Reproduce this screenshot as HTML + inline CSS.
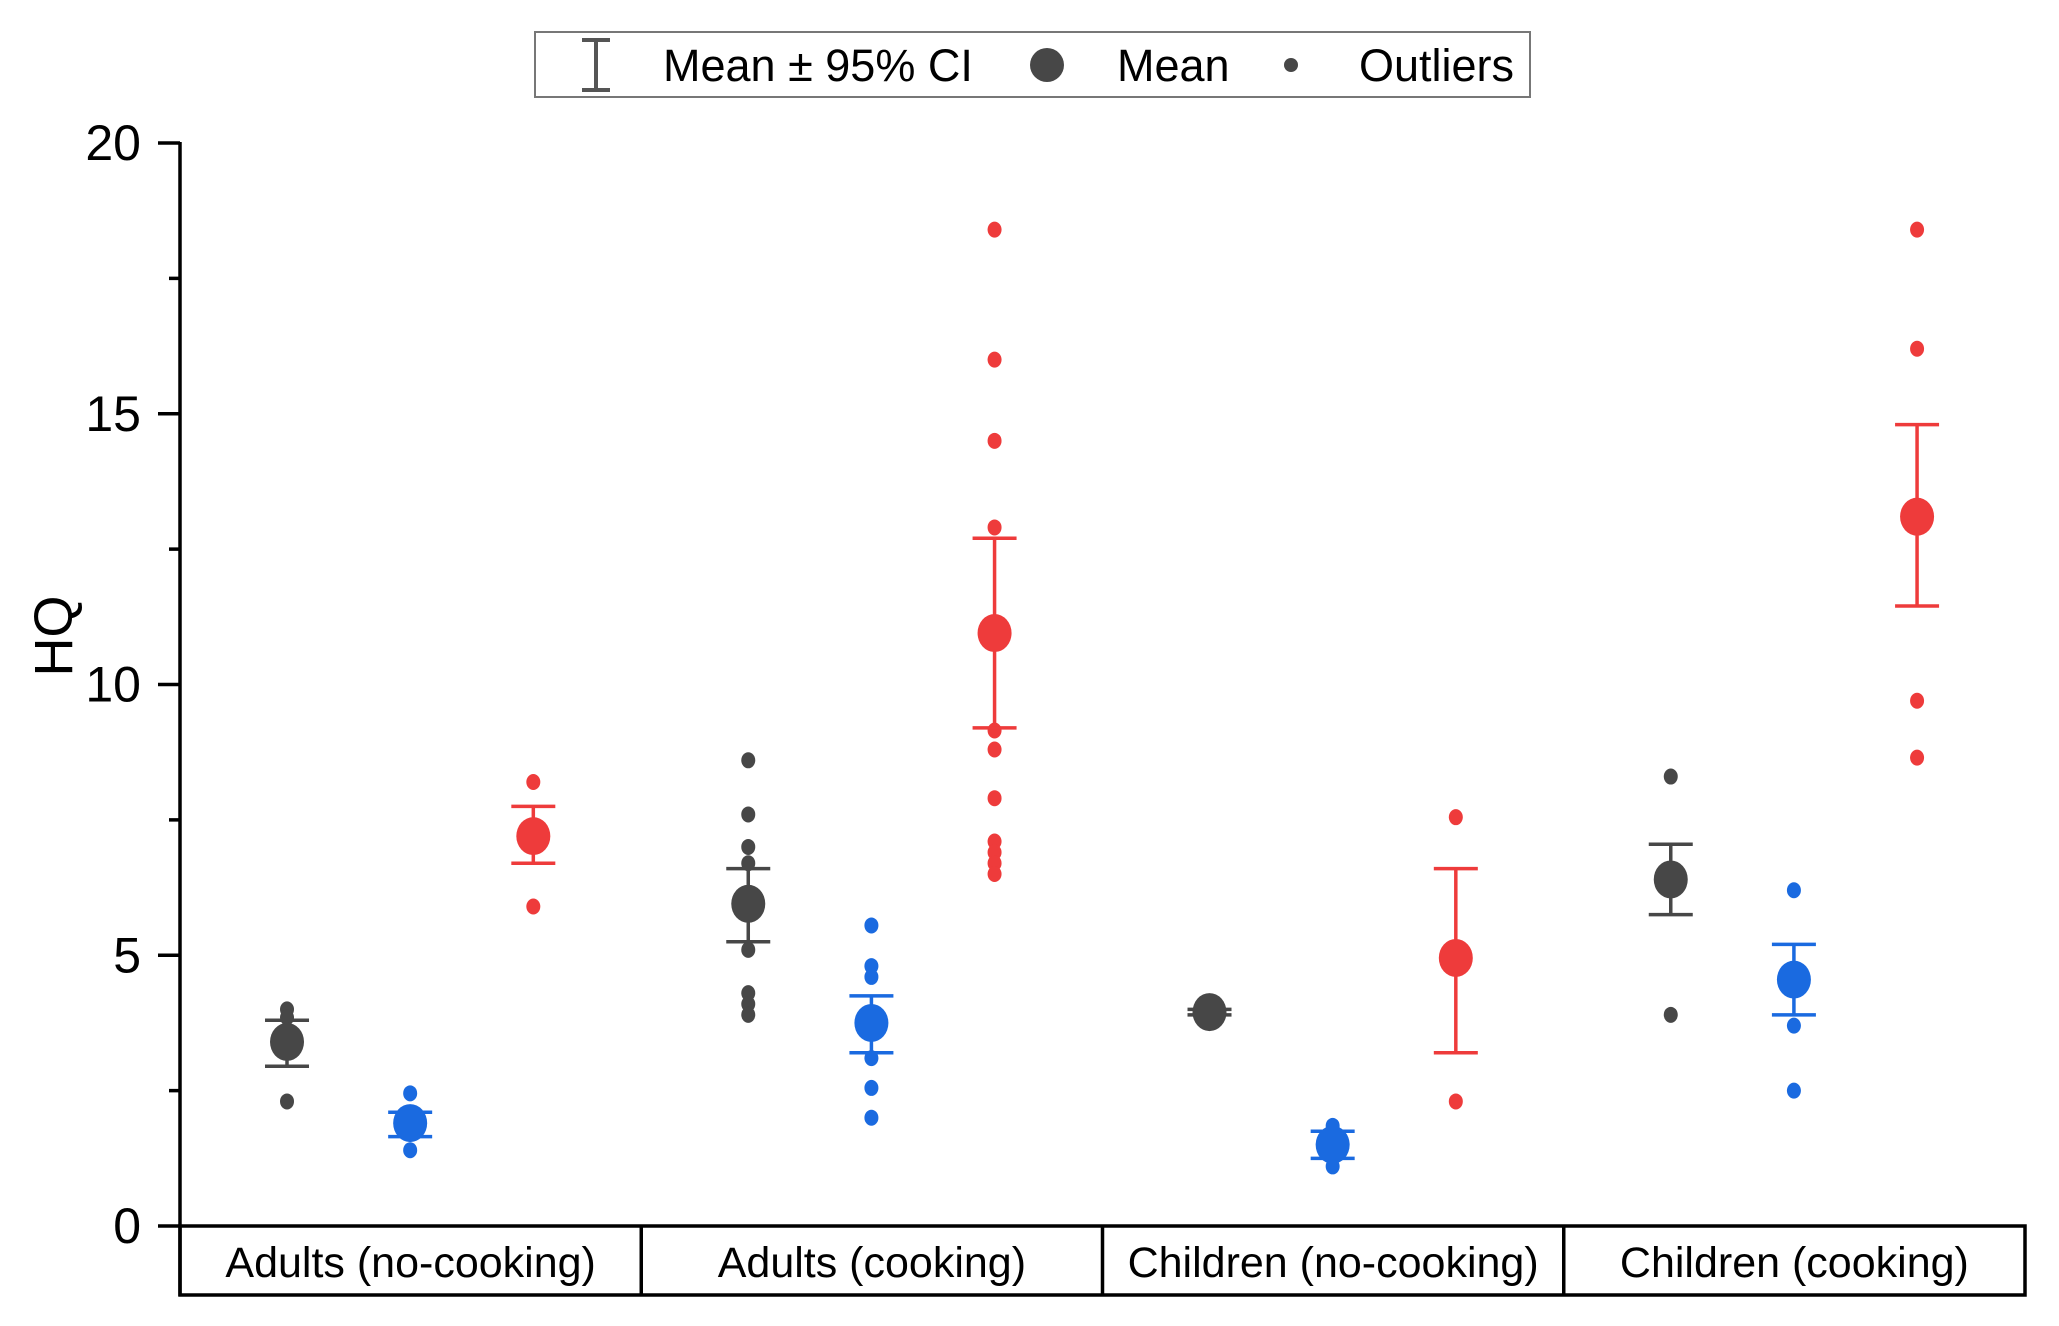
<!DOCTYPE html>
<html><head><meta charset="utf-8"><style>
html,body{margin:0;padding:0;background:#fff;}
svg{display:block;font-family:"Liberation Sans",Arial,sans-serif;}
</style></head><body>
<svg id="chart" width="2059" height="1326" viewBox="0 0 2059 1326" xmlns="http://www.w3.org/2000/svg">
<g>
<rect x="535" y="32" width="995" height="65" fill="#fff" stroke="#777" stroke-width="2"/>
<g stroke="#555" stroke-width="4">
<line x1="596" y1="40" x2="596" y2="90"/><line x1="582" y1="40" x2="610" y2="40"/><line x1="582" y1="90" x2="610" y2="90"/>
</g>
<text x="663" y="81" font-size="45">Mean ± 95% CI</text>
<circle cx="1047" cy="65" r="17" fill="#474747"/>
<text x="1117" y="81" font-size="45">Mean</text>
<circle cx="1291" cy="65" r="7" fill="#474747"/>
<text x="1359" y="81" font-size="45">Outliers</text>
</g>
<text transform="translate(72,636) rotate(-90)" text-anchor="middle" font-size="54">HQ</text>
<g id="axes"></g>
<g id="marks"></g>
</svg>
<script>
const categories = ["Adults (no-cooking)", "Adults (cooking)", "Children (no-cooking)", "Children (cooking)"];
const seriesNames = ["grey", "blue", "red"];
const yTicks = [0, 5, 10, 15, 20];
const yMinorTicks = [2.5, 7.5, 12.5, 17.5];
const greyMean = [3.4, 5.95, 3.95, 6.4];
const greyLow = [2.95, 5.25, 3.9, 5.75];
const greyHigh = [3.8, 6.6, 4.0, 7.05];
const blueMean = [1.9, 3.75, 1.5, 4.55];
const blueLow = [1.65, 3.2, 1.25, 3.9];
const blueHigh = [2.1, 4.25, 1.75, 5.2];
const redMean = [7.2, 10.95, 4.95, 13.1];
const redLow = [6.7, 9.2, 3.2, 11.45];
const redHigh = [7.75, 12.7, 6.6, 14.8];
const greyOutliers = [[4.0, 3.85, 2.3], [8.6, 7.6, 7.0, 6.7, 5.1, 4.3, 4.1, 3.9], [], [8.3, 3.9]];
const blueOutliers = [[2.45, 2.0, 1.4], [5.55, 4.8, 4.6, 3.1, 2.55, 2.0], [1.85, 1.1], [6.2, 3.7, 2.5]];
const redOutliers = [[8.2, 5.9], [18.4, 16.0, 14.5, 12.9, 9.15, 8.8, 7.9, 7.1, 6.9, 6.7, 6.5], [7.55, 2.3], [18.4, 16.2, 9.7, 8.65]];

const NS = "http://www.w3.org/2000/svg";
const X0 = 180, X1 = 2025, Y0 = 1226, Y20 = 143, BOXB = 1295;
const yScale = v => Y0 - (v / 20) * (Y0 - Y20);
const catW = (X1 - X0) / categories.length;
const xScale = (c, s) => X0 + catW * c + catW * (0.232 + 0.267 * s);
const colors = ["#474747", "#1a6ae0", "#ee3b3b"];
function mk(tag, attrs, parent) {
  const e = document.createElementNS(NS, tag);
  for (const k in attrs) e.setAttribute(k, attrs[k]);
  parent.appendChild(e);
  return e;
}
const axes = document.getElementById("axes");
const marks = document.getElementById("marks");
let e = mk("line", {x1: X0, y1: Y20 - 1, x2: X0, y2: BOXB + 1, stroke: "#000", "stroke-width": 3.5}, axes);


yTicks.forEach(t => {
  const y = yScale(t);
  const l = mk("line", {x1: X0 - 22, y1: y, x2: X0, y2: y, stroke: "#000", "stroke-width": 3.5}, axes);
  
  
  const tx = mk("text", {x: 141, y: y + 17, "text-anchor": "end", "font-size": 50}, axes);
  tx.textContent = t;
  
  
});
yMinorTicks.forEach(t => {
  const y = yScale(t);
  const l = mk("line", {x1: X0 - 11, y1: y, x2: X0, y2: y, stroke: "#000", "stroke-width": 3.5}, axes);
  
  
});
e = mk("rect", {x: X0, y: Y0, width: X1 - X0, height: BOXB - Y0, fill: "none", stroke: "#000", "stroke-width": 3.5}, axes);


categories.forEach((c, i) => {
  if (i > 0) {
    const l = mk("line", {x1: X0 + catW * i, y1: Y0, x2: X0 + catW * i, y2: BOXB, stroke: "#000", "stroke-width": 3.5}, axes);
    
    
  }
  const tx = mk("text", {x: X0 + catW * (i + 0.5), y: 1277, "text-anchor": "middle", "font-size": 43}, axes);
  tx.textContent = c;
  
  
});
const means = [greyMean, blueMean, redMean], lows = [greyLow, blueLow, redLow], highs = [greyHigh, blueHigh, redHigh], outs = [greyOutliers, blueOutliers, redOutliers];
for (let s = 0; s < 3; s++) {
  for (let c = 0; c < categories.length; c++) {
    const x = xScale(c, s), col = colors[s];
    outs[s][c].forEach(v => {
      const o = mk("ellipse", {cx: x, cy: yScale(v), rx: 7, ry: 8, fill: col}, marks);
      
      
    });
    const g = mk("g", {stroke: col, "stroke-width": 3.5}, marks);
    
    
    const yl = yScale(lows[s][c]), yh = yScale(highs[s][c]);
    mk("line", {x1: x, y1: yl, x2: x, y2: yh}, g);
    mk("line", {x1: x - 22, y1: yl, x2: x + 22, y2: yl}, g);
    mk("line", {x1: x - 22, y1: yh, x2: x + 22, y2: yh}, g);
    const m = mk("ellipse", {cx: x, cy: yScale(means[s][c]), rx: 17, ry: 19, fill: col}, marks);
    
    
  }
}
</script>
</body></html>
